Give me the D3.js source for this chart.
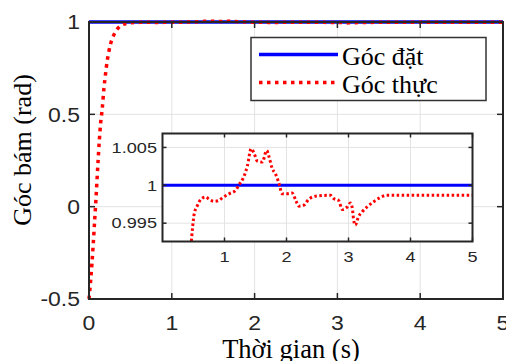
<!DOCTYPE html>
<html><head><meta charset="utf-8">
<script src="https://cdn.jsdelivr.net/npm/d3@7"></script>
<style>
body{margin:0;background:#fff;}
svg{display:block;}
</style></head>
<body>
<svg id="c" width="506" height="361"></svg>
<script>
// ---- data ----
const seriesNames = ["Góc đặt", "Góc thực"];
const setTime = [0, 5];
const setValue = [1, 1];
const actTime = [0, 0.02, 0.035, 0.05, 0.065, 0.08, 0.095, 0.11, 0.125, 0.14, 0.16, 0.18, 0.2, 0.22, 0.24, 0.26, 0.29, 0.34, 0.42, 0.459,
  0.486, 0.513, 0.566, 0.62, 0.70, 0.75, 0.83, 0.91, 0.97, 1.08, 1.18, 1.23, 1.31, 1.37, 1.43, 1.48, 1.53, 1.61, 1.68, 1.72, 1.77, 1.82, 1.88, 1.93,
  2.01, 2.09, 2.15, 2.20, 2.28, 2.36, 2.49, 2.71, 2.76, 2.84, 2.90, 2.98, 3.03, 3.06, 3.08, 3.11, 3.16, 3.22, 3.30, 3.40, 3.51, 3.62, 5.0];
const actValue = [-0.5, -0.40, -0.31, -0.21, -0.10, 0.01, 0.13, 0.25, 0.36, 0.45, 0.53, 0.64, 0.72, 0.79, 0.84, 0.88, 0.92, 0.96, 0.989, 0.9920,
  0.99451, 0.99628, 0.99737, 0.99816, 0.99846, 0.99816, 0.99789, 0.998, 0.99838, 0.9989, 0.99934, 1.0, 1.0011, 1.0026, 1.00483, 1.00417, 1.0032, 1.00307, 1.0046, 1.00372, 1.0022, 1.00154, 1.00022, 0.9989,
  0.9989, 0.99899, 0.998, 0.99724, 0.99737, 0.99816, 0.99859, 0.99868, 0.99825, 0.998, 0.9968, 0.99715, 0.99767, 0.99706, 0.99561, 0.99474, 0.99583, 0.99649, 0.99715, 0.9978, 0.99838, 0.99868, 0.99868];
const xTicks = [0, 1, 2, 3, 4, 5];
const yTicks = [-0.5, 0, 0.5, 1];
const yTickLabels = ["-0.5", "0", "0.5", "1"];
const insetXTicks = [1, 2, 3, 4, 5];
const insetYTicks = [0.995, 1, 1.005];
const insetYTickLabels = ["0.995", "1", "1.005"];
const xLabel = "Thời gian (s)";
const yLabel = "Góc bám (rad)";

const setData = setTime.map((t, i) => [t, setValue[i]]);
const actData = actTime.map((t, i) => [t, actValue[i]]);

const svg = d3.select("#c");
const axisColor = "#262626";
const gridColor = "#e3e3e3";
const blue = "#0000ff", red = "#ff0000";
const sans = "'Liberation Sans', Arial, sans-serif";
const serif = "'Liberation Serif', 'Times New Roman', serif";

function stretch(sel, k) {
  sel.each(function () {
    const L = this.getComputedTextLength();
    d3.select(this).attr("textLength", L * k).attr("lengthAdjust", "spacingAndGlyphs");
  });
}

function grid(g, x, y, xt, yt) {
  const [x0, x1] = x.range(), [y0, y1] = y.range();
  g.append("g").selectAll("line").data(xt).join("line")
    .attr("x1", d => x(d)).attr("x2", d => x(d)).attr("y1", y0).attr("y2", y1)
    .attr("stroke", gridColor).attr("stroke-width", 1);
  g.append("g").selectAll("line").data(yt).join("line")
    .attr("x1", x0).attr("x2", x1).attr("y1", d => y(d)).attr("y2", d => y(d))
    .attr("stroke", gridColor).attr("stroke-width", 1);
}

function frame(g, x, y, xt, yt, ytl, fs, k, xLabOff, yLabOff, tickLen) {
  const [x0, x1] = x.range(), [y0, y1] = y.range();
  const ax = g.append("g");
  xt.forEach(d => {
    ax.append("line").attr("x1", x(d)).attr("x2", x(d)).attr("y1", y0).attr("y2", y0 - tickLen);
    ax.append("line").attr("x1", x(d)).attr("x2", x(d)).attr("y1", y1).attr("y2", y1 + tickLen);
  });
  yt.forEach(d => {
    ax.append("line").attr("x1", x0).attr("x2", x0 + tickLen).attr("y1", y(d)).attr("y2", y(d));
    ax.append("line").attr("x1", x1).attr("x2", x1 - tickLen).attr("y1", y(d)).attr("y2", y(d));
  });
  ax.selectAll("line").attr("stroke", axisColor).attr("stroke-width", 1.5);
  ax.append("rect").attr("x", x0).attr("y", y1).attr("width", x1 - x0).attr("height", y0 - y1)
    .attr("fill", "none").attr("stroke", axisColor).attr("stroke-width", 2);
  const xl = g.append("g").selectAll("text").data(xt).join("text")
    .attr("x", d => x(d)).attr("y", y0 + xLabOff).attr("text-anchor", "middle")
    .attr("font-family", sans).attr("font-size", fs).attr("fill", axisColor).text(d => d);
  stretch(xl, k);
  const yl = g.append("g").selectAll("text").data(yt).join("text")
    .attr("x", x0 - yLabOff).attr("y", d => y(d)).attr("dy", "0.36em").attr("text-anchor", "end")
    .attr("font-family", sans).attr("font-size", fs).attr("fill", axisColor).text((d, i) => ytl[i]);
  stretch(yl, k);
}

// ---- main axes ----
const x = d3.scaleLinear().domain([0, 5]).range([89, 503]);
const y = d3.scaleLinear().domain([-0.5, 1]).range([299, 22]);
const main = svg.append("g");
grid(main, x, y, xTicks, yTicks);
const line = d3.line().x(d => x(d[0])).y(d => y(d[1])).curve(d3.curveMonotoneX);
main.append("path").datum(setData).attr("d", line).attr("fill", "none")
  .attr("stroke", blue).attr("stroke-width", 3.5);
main.append("path").datum(actData).attr("d", line).attr("fill", "none")
  .attr("stroke", red).attr("stroke-width", 3.5).attr("stroke-dasharray", "3.5,4.5");
frame(main, x, y, xTicks, yTicks, yTickLabels, 20.5, 1.12, 31, 9, 6);

// axis labels
svg.append("text").attr("x", 291).attr("y", 358).attr("text-anchor", "middle")
  .attr("font-family", serif).attr("font-size", 26.5).attr("fill", "#000").text(xLabel);
svg.append("text").attr("transform", "translate(31,150) rotate(-90)").attr("text-anchor", "middle")
  .attr("font-family", serif).attr("font-size", 26).attr("fill", "#000").text(yLabel);

// ---- legend ----
const leg = svg.append("g");
leg.append("rect").attr("x", 251).attr("y", 37.5).attr("width", 235).attr("height", 63)
  .attr("fill", "#fff").attr("stroke", "#333").attr("stroke-width", 1.5);
const legY = [54.5, 82.5];
leg.append("line").attr("x1", 259).attr("x2", 338).attr("y1", legY[0]).attr("y2", legY[0])
  .attr("stroke", blue).attr("stroke-width", 3.5);
leg.append("line").attr("x1", 259).attr("x2", 338).attr("y1", legY[1]).attr("y2", legY[1])
  .attr("stroke", red).attr("stroke-width", 3.5).attr("stroke-dasharray", "3.5,4.5");
leg.selectAll("text.l").data(seriesNames).join("text").attr("class", "l")
  .attr("x", 342).attr("y", (d, i) => [65, 92.5][i])
  .attr("font-family", serif).attr("font-size", 26).attr("fill", "#000").text(d => d);

// ---- inset ----
const ix = d3.scaleLinear().domain([0, 5]).range([162.5, 472.5]);
const iy = d3.scaleLinear().domain([0.99258, 1.00684]).range([241.5, 133.5]);
const inset = svg.append("g");
inset.append("rect").attr("x", 162.5).attr("y", 133.5).attr("width", 310).attr("height", 108).attr("fill", "#fff");
grid(inset, ix, iy, insetXTicks, insetYTicks);
svg.append("defs").append("clipPath").attr("id", "ic").append("rect")
  .attr("x", 162.5).attr("y", 133.5).attr("width", 310).attr("height", 108);
const iline = d3.line().x(d => ix(d[0])).y(d => iy(d[1])).curve(d3.curveMonotoneX);
const ig = inset.append("g").attr("clip-path", "url(#ic)");
ig.append("path").datum(setData).attr("d", iline).attr("fill", "none")
  .attr("stroke", blue).attr("stroke-width", 3);
ig.append("path").datum(actData).attr("d", iline).attr("fill", "none")
  .attr("stroke", red).attr("stroke-width", 3).attr("stroke-dasharray", "2.5,2.5");
frame(inset, ix, iy, insetXTicks, insetYTicks, insetYTickLabels, 14.5, 1.25, 20, 5.5, 4);
</script>
</body></html>
